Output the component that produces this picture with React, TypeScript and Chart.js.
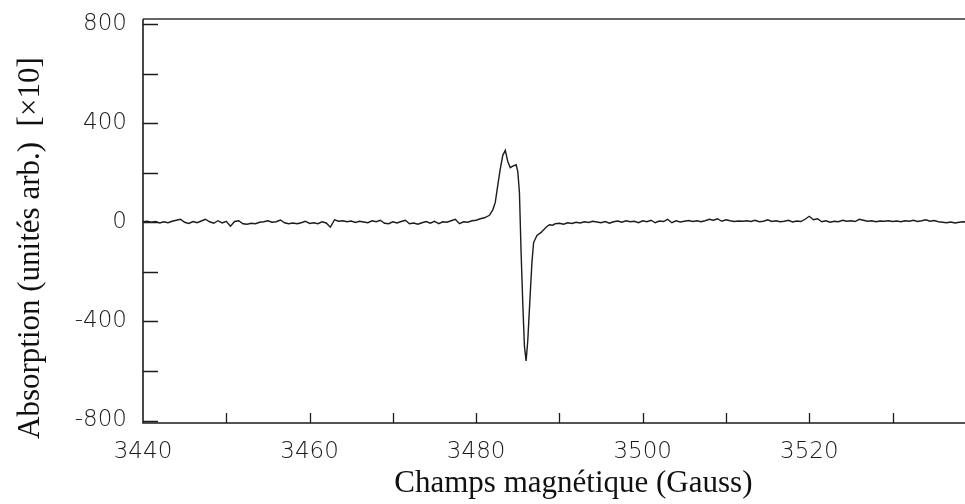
import React, { useEffect, useRef } from "react";
import { Chart, registerables } from "chart.js";

Chart.register(...registerables);

// Low-field baseline (Gauss / arbitrary units x10)
const lowFieldGauss = [
  3440, 3440.5, 3441, 3441.5, 3442, 3442.5, 3443, 3443.5, 3444, 3444.5,
  3445, 3445.5, 3446, 3446.5, 3447, 3447.5, 3448, 3448.5, 3449, 3449.5,
  3450, 3450.5, 3451, 3451.5, 3452, 3452.5, 3453, 3453.5, 3454, 3454.5,
  3455, 3455.5, 3456, 3456.5, 3457, 3457.5, 3458, 3458.5, 3459, 3459.5,
  3460, 3460.5, 3461, 3461.5, 3462, 3462.5, 3463, 3463.5, 3464, 3464.5,
  3465, 3465.5, 3466, 3466.5, 3467, 3467.5, 3468, 3468.5, 3469, 3469.5,
  3470, 3470.5, 3471, 3471.5, 3472, 3472.5, 3473, 3473.5, 3474, 3474.5,
  3475, 3475.5, 3476, 3476.5, 3477, 3477.5, 3478, 3478.5, 3479, 3479.5, 3480,
];
const lowFieldAbs = [
  2, 4, 0, 3, -3, 2, -2, 4, 8, 12,
  0, -5, 3, -2, 5, 12, 2, -4, 6, -3,
  4, -16, 3, 6, -6, -8, -4, -6, 0, 2,
  6, 0, 2, 9, -2, -6, -3, -6, -2, 4,
  -5, -2, -6, 2, -3, -20, 10, 4, 6, 2,
  5, -1, 4, 1, -2, 6, 2, 8, -4, -6,
  2, -3, 3, 8, -6, -3, -8, -2, 3, -4,
  4, -6, 2, 0, 6, 12, -6, 2, 0, 6, 8,
];

// Resonance line
const resonanceGauss = [
  3480.5, 3481, 3481.6, 3482, 3482.3, 3482.6, 3482.9, 3483.2, 3483.5, 3483.8,
  3484.1, 3484.4, 3484.8, 3485.0, 3485.2, 3485.4, 3485.6, 3485.8, 3486.0, 3486.2,
  3486.5, 3486.7, 3486.9, 3487.3, 3487.8, 3488.4, 3488.8, 3489.2,
];
const resonanceAbs = [
  14, 18, 28, 50, 80, 150, 215, 270, 290, 245,
  220, 226, 232, 205, 120, -122, -326, -500, -560, -478,
  -286, -163, -82, -53, -41, -20, -10, -12,
];

// High-field baseline
const highFieldGauss = [
  3489.5, 3490, 3490.5, 3491, 3491.5, 3492, 3492.5, 3493, 3493.5, 3494,
  3494.5, 3495, 3495.5, 3496, 3496.5, 3497, 3497.5, 3498, 3498.5, 3499,
  3499.5, 3500, 3500.5, 3501, 3501.5, 3502, 3502.5, 3503, 3503.5, 3504,
  3504.5, 3505, 3505.5, 3506, 3506.5, 3507, 3507.5, 3508, 3508.5, 3509,
  3509.5, 3510, 3510.5, 3511, 3511.5, 3512, 3512.5, 3513, 3513.5, 3514,
  3514.5, 3515, 3515.5, 3516, 3516.5, 3517, 3517.5, 3518, 3518.5, 3519,
  3519.5, 3520, 3520.5, 3521, 3521.5, 3522, 3522.5, 3523, 3523.5, 3524,
  3524.5, 3525, 3525.5, 3526, 3526.5, 3527, 3527.5, 3528, 3528.5, 3529,
  3529.5, 3530, 3530.5, 3531, 3531.5, 3532, 3532.5, 3533, 3533.5, 3534,
  3534.5, 3535, 3535.5, 3536, 3536.5, 3537, 3537.5, 3538, 3538.5, 3538.7,
];
const highFieldAbs = [
  -6, -4, -8, -2, -5, 0, -3, 2, -1, 4,
  1, -2, 3, -4, 2, 5, 0, 6, 2, 4,
  -2, 6, 2, 8, -2, 5, 3, 12, -2, 6,
  1, 4, 7, 3, 6, 2, 6, 12, 8, 14,
  4, 10, 6, 3, 5, 4, 6, 3, 8, 2,
  4, 10, 3, 6, 2, 4, 8, 1, 5, 3,
  12, 24, 10, 14, 2, 6, 0, 4, 2, 8,
  4, 6, 3, 12, 8, 4, 6, 2, 5, 4,
  6, 3, 5, 2, 6, 4, 8, 3, 6, 10,
  4, 7, 2, 0, -2, 1, -3, 0, 2, 1,
];

// Axes
const xMin = 3440;
const xMax = 3538.7;
const yMin = -810;
const yMax = 820;
const xLabelTicks = [3440, 3460, 3480, 3500, 3520];
const xMarkTicks = [3450, 3460, 3470, 3480, 3490, 3500, 3510, 3520, 3530];
const yLabelTicks = [-800, -400, 0, 400, 800];
const yMarkTicks = [-800, -600, -400, -200, 0, 200, 400, 600, 800];

const xTitle = "     Champs magnétique (Gauss)";
const yTitle = "Absorption (unités arb.)  [×10]       ";

const INK = "#1c1c1c";

const framePlugin = {
  id: "frameTicks",
  afterDraw(chart: any) {
    const { ctx, chartArea } = chart;
    const x = chart.scales.x;
    const y = chart.scales.y;
    ctx.save();
    ctx.strokeStyle = INK;
    ctx.lineWidth = 1.6;
    ctx.beginPath();
    ctx.moveTo(chartArea.left, chartArea.top);
    ctx.lineTo(chartArea.left, chartArea.bottom);
    ctx.lineTo(chartArea.right, chartArea.bottom);
    ctx.stroke();
    ctx.lineWidth = 1.3;
    ctx.strokeStyle = "#333";
    ctx.beginPath();
    ctx.moveTo(chartArea.left, chartArea.top);
    ctx.lineTo(chartArea.right, chartArea.top);
    ctx.stroke();
    ctx.strokeStyle = INK;
    ctx.lineWidth = 1.3;
    ctx.beginPath();
    yMarkTicks.forEach((v) => {
      const py = Math.round(y.getPixelForValue(v)) + 0.5;
      ctx.moveTo(chartArea.left, py);
      ctx.lineTo(chartArea.left + 15, py);
    });
    xMarkTicks.forEach((v) => {
      const px = Math.round(x.getPixelForValue(v)) + 0.5;
      ctx.moveTo(px, chartArea.bottom);
      ctx.lineTo(px, chartArea.bottom - 10);
    });
    ctx.stroke();
    ctx.restore();
  },
};

export default function App() {
  const canvasRef = useRef<HTMLCanvasElement | null>(null);

  useEffect(() => {
    const canvas = canvasRef.current;
    if (!canvas) return;
    const points = [
      ...lowFieldGauss.map((g, i) => ({ x: g, y: lowFieldAbs[i] })),
      ...resonanceGauss.map((g, i) => ({ x: g, y: resonanceAbs[i] })),
      ...highFieldGauss.map((g, i) => ({ x: g, y: highFieldAbs[i] })),
    ];
    const tickFont = { family: "'DejaVu Sans', sans-serif", size: 23, weight: 300 as any };
    const titleFont = { family: "'Liberation Serif', 'Times New Roman', serif", size: 31 };
    const chart = new Chart(canvas, {
      type: "line",
      data: {
        datasets: [
          {
            data: points,
            borderColor: INK,
            borderWidth: 1.4,
            pointRadius: 0,
            tension: 0,
            fill: false,
          },
        ],
      },
      options: {
        animation: false,
        responsive: false,
        maintainAspectRatio: false,
        layout: { padding: { top: 19, left: 0, right: 0, bottom: 0 } },
        plugins: { legend: { display: false }, tooltip: { enabled: false } },
        scales: {
          x: {
            type: "linear",
            min: xMin,
            max: xMax,
            afterBuildTicks: (s: any) => {
              s.ticks = xLabelTicks.map((v) => ({ value: v }));
            },
            afterFit: (s: any) => {
              s.height = 81;
              s.paddingLeft = 0;
              s.paddingRight = 0;
            },
            grid: { display: false, drawTicks: false },
            border: { display: false },
            ticks: {
              padding: 15,
              autoSkip: false,
              maxRotation: 0,
              color: INK,
              font: tickFont,
              callback: (v: any) => String(v),
            },
            title: {
              display: true,
              text: xTitle,
              color: "#111",
              font: titleFont,
              padding: { top: 0, bottom: 2 },
            },
          },
          y: {
            type: "linear",
            min: yMin,
            max: yMax,
            afterBuildTicks: (s: any) => {
              s.ticks = yLabelTicks.map((v) => ({ value: v }));
            },
            afterFit: (s: any) => {
              s.width = 143;
              s.paddingTop = 0;
              s.paddingBottom = 0;
            },
            grid: { display: false, drawTicks: false },
            border: { display: false },
            ticks: {
              padding: 16,
              autoSkip: false,
              color: INK,
              font: tickFont,
              callback: (v: any) => String(v),
            },
            title: {
              display: true,
              text: yTitle,
              color: "#111",
              font: titleFont,
              padding: { top: 12, bottom: 0 },
            },
          },
        },
      },
      plugins: [framePlugin],
    });
    return () => chart.destroy();
  }, []);

  return (
    <div style={{ position: "absolute", left: 0, top: 0, width: 965, height: 504, background: "#fff" }}>
      <canvas ref={canvasRef} width={965} height={504} style={{ display: "block" }} />
    </div>
  );
}
